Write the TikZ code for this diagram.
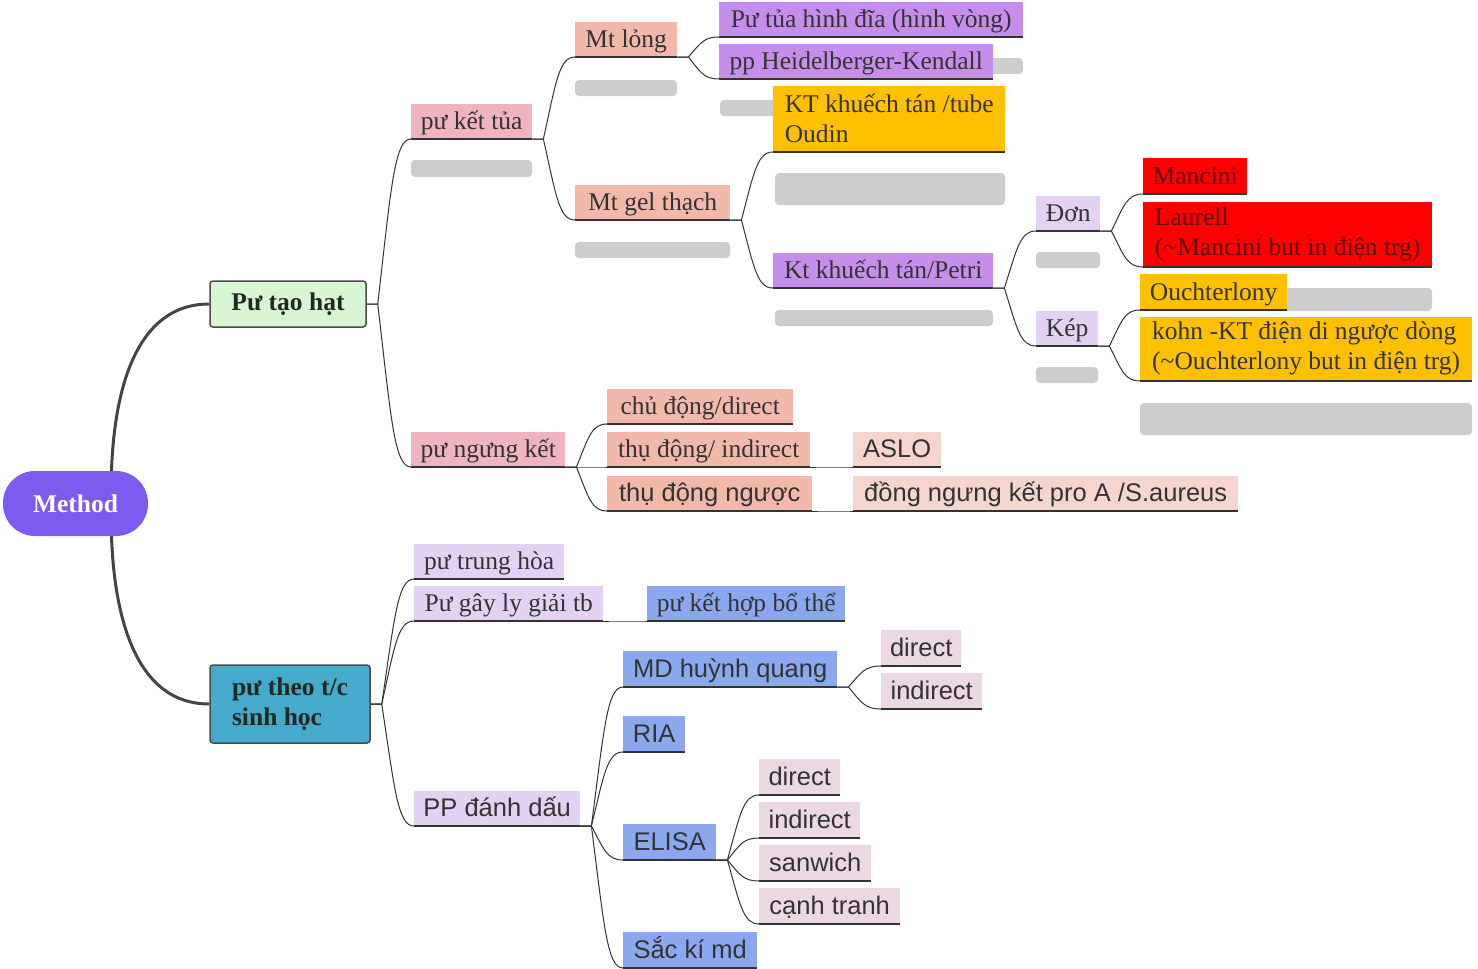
\documentclass[tikz,border=0pt]{standalone}
\usepackage{fontspec}
\setmainfont{Liberation Serif}
\setsansfont{Liberation Sans}
\usetikzlibrary{calc}

\definecolor{metodi}{HTML}{7B5CEF}
\definecolor{vihrea}{HTML}{D9F6D2}
\definecolor{sinivihrea}{HTML}{45AACB}
\definecolor{reuna}{HTML}{4A4A4A}
\definecolor{teksti}{HTML}{333333}
\definecolor{tumma}{HTML}{1E2A22}
\definecolor{viiva}{HTML}{333333}
\definecolor{juuriviiva}{HTML}{444444}
\definecolor{harmaa}{HTML}{CDCDCD}
\definecolor{pinkki}{HTML}{F0B4C0}
\definecolor{lohi}{HTML}{F2B8AA}
\definecolor{vaaleapinkki}{HTML}{F6D5CF}
\definecolor{violetti}{HTML}{C48EEA}
\definecolor{keltainen}{HTML}{FFC000}
\definecolor{punainen}{HTML}{FF0000}
\definecolor{tpunainen}{HTML}{5C0A0A}
\definecolor{laventeli}{HTML}{E3D2F4}
\definecolor{sininen}{HTML}{8BA7EE}
\definecolor{malva}{HTML}{EBD8E3}

\tikzset{
laatikko/.style={anchor=south west, inner xsep=7pt, inner ysep=0pt, align=left, text=teksti},
rivi/.style={laatikko, minimum height=35pt, text height=22pt, text depth=5pt},
linkki/.style={draw=viiva, line width=1pt},
juuri/.style={draw=juuriviiva, line width=3pt},
alleviiva/.style={draw=viiva, line width=1.3pt},
sumea/.style={fill=harmaa, rounded corners=4pt}
}

\begin{document}
\begin{tikzpicture}[x=1pt,y=-1pt]
\fontsize{25.5}{30}\selectfont
\useasboundingbox (0,0) rectangle (1478,969);
\newcommand\haara[2]{
\path[linkki] let \p1=($(#1)+(11,0)$), \p2=(#2.south west) in (#1) -- (\p1) .. controls ({\x1+0.4*(\x2-\x1)},{\y1+0.7*(\y2-\y1)}) and ({\x1+0.5*(\x2-\x1)},\y2) .. (\p2);
}

\fill[sumea] (411,160) rectangle (532,177);
\fill[sumea] (575,80) rectangle (677,96);
\fill[sumea] (575,242) rectangle (730,258);
\fill[sumea] (719,58) rectangle (1023,74);
\fill[sumea] (720,100) rectangle (1005,116);
\fill[sumea] (775,173) rectangle (1005,205);
\fill[sumea] (775,310) rectangle (993,326);
\fill[sumea] (1036,252) rectangle (1100,268);
\fill[sumea] (1036,367) rectangle (1098,383);
\fill[sumea] (1140,288) rectangle (1432,311);
\fill[sumea] (1140,403) rectangle (1472,435);

\node[fill=metodi, rounded corners=32pt, minimum width=145pt, minimum height=65pt, text=white, font=\bfseries] (method) at (75.5,503.5) {Method};
\node[draw=reuna, line width=1.5pt, fill=vihrea, rounded corners=3pt, minimum width=156pt, minimum height=46pt, text=tumma, font=\bfseries] (taohat) at (288,304) {Pư tạo hạt};
\node[draw=reuna, line width=1.5pt, fill=sinivihrea, rounded corners=3pt, minimum width=160pt, minimum height=78pt, align=left, text=tumma, font=\bfseries] (sinhhoc) at (290,704) {pư theo t/c\\sinh học};

\node[rivi, fill=pinkki, minimum width=121pt] (kettua) at (411,139) {pư kết tủa};
\node[rivi, fill=pinkki, minimum width=154pt] (ngungket) at (411,467) {pư ngưng kết};
\node[rivi, fill=lohi, minimum width=102pt] (mtlong) at (575,57) {Mt lỏng};
\node[rivi, fill=lohi, minimum width=155pt] (mtgel) at (575,220) {Mt gel thạch};
\node[rivi, fill=violetti, minimum width=304pt] (tuadia) at (719,37) {Pư tủa hình đĩa (hình vòng)};
\node[rivi, fill=violetti, minimum width=274pt] (heidel) at (719,79) {pp Heidelberger-Kendall};
\node[laatikko, fill=keltainen, minimum height=66pt, minimum width=232pt] (oudin) at (773,152) {KT khuếch tán /tube\\Oudin};
\node[rivi, fill=violetti, minimum width=220pt] (petri) at (773,288) {Kt khuếch tán/Petri};
\node[rivi, fill=laventeli, minimum width=64pt] (don) at (1036,231) {Đơn};
\node[rivi, fill=laventeli, minimum width=62pt] (kep) at (1036,346) {Kép};
\node[rivi, fill=punainen, text=tpunainen, minimum height=36pt, minimum width=104pt] (mancini) at (1143,194) {Mancini};
\node[laatikko, fill=punainen, text=tpunainen, minimum height=65pt, minimum width=289pt] (laurell) at (1143,267) {Laurell\\(\textasciitilde Mancini but in điện trg)};
\node[rivi, fill=keltainen, minimum height=36pt, minimum width=147pt] (ouchter) at (1140,310) {Ouchterlony};
\node[laatikko, fill=keltainen, minimum height=64pt, minimum width=332pt] (kohn) at (1140,381) {kohn -KT điện di ngược dòng\\(\textasciitilde Ouchterlony but in điện trg)};

\node[rivi, fill=lohi, minimum width=186pt] (chudong) at (607,424) {chủ động/direct};
\node[rivi, fill=lohi, minimum width=203pt] (thudong) at (607,467) {thụ động/ indirect};
\node[rivi, fill=vaaleapinkki, minimum width=88pt, font=\sffamily] (aslo) at (853,467) {ASLO};
\node[rivi, fill=lohi, minimum width=205pt, font=\sffamily] (nguoc) at (607,511) {thụ động ngược};
\node[rivi, fill=vaaleapinkki, minimum width=385pt, font=\sffamily] (dongngung) at (853,511) {đồng ngưng kết pro A /S.aureus};

\node[rivi, fill=laventeli, minimum width=150pt] (trunghoa) at (414,579) {pư trung hòa};
\node[rivi, fill=laventeli, minimum width=189pt] (lygiai) at (414,621) {Pư gây ly giải tb};
\node[rivi, fill=sininen, minimum width=198pt] (bothe) at (647,621) {pư kết hợp bổ thể};
\node[rivi, fill=laventeli, minimum width=166pt, font=\sffamily] (danhdau) at (414,826) {PP đánh dấu};
\node[rivi, fill=sininen, minimum height=36pt, minimum width=214pt, font=\sffamily] (mdhq) at (623,687) {MD huỳnh quang};
\node[rivi, fill=sininen, minimum height=36pt, minimum width=62pt, font=\sffamily] (ria) at (623,752) {RIA};
\node[rivi, fill=sininen, minimum height=36pt, minimum width=93pt, font=\sffamily] (elisa) at (623,860) {ELISA};
\node[rivi, fill=sininen, minimum height=36pt, minimum width=134pt, font=\sffamily] (sacki) at (623,968) {Sắc kí md};
\node[rivi, fill=malva, minimum height=36pt, minimum width=80pt, font=\sffamily] (hqdirect) at (881,666) {direct};
\node[rivi, fill=malva, minimum height=36pt, minimum width=101pt, font=\sffamily] (hqindirect) at (881,709) {indirect};
\node[rivi, fill=malva, minimum height=36pt, minimum width=81pt, font=\sffamily] (edirect) at (759,795) {direct};
\node[rivi, fill=malva, minimum height=36pt, minimum width=101pt, font=\sffamily] (eindirect) at (759,838) {indirect};
\node[rivi, fill=malva, minimum height=36pt, minimum width=112pt, font=\sffamily] (sanwich) at (759,881) {sanwich};
\node[rivi, fill=malva, minimum height=36pt, minimum width=141pt, font=\sffamily] (canhtranh) at (759,924) {cạnh tranh};

\path[juuri] ([xshift=36pt]method.north) to[out=88,in=180] (taohat.west);
\path[juuri] ([xshift=36pt]method.south) to[out=-88,in=180] (sinhhoc.west);

\foreach \a/\b in {taohat.east/kettua, taohat.east/ngungket, kettua.south east/mtlong, kettua.south east/mtgel,
  mtlong.south east/tuadia, mtlong.south east/heidel, mtgel.south east/oudin, mtgel.south east/petri,
  petri.south east/don, petri.south east/kep, don.south east/mancini, don.south east/laurell,
  kep.south east/ouchter, kep.south east/kohn, ngungket.south east/chudong, ngungket.south east/thudong,
  ngungket.south east/nguoc, thudong.south east/aslo, nguoc.south east/dongngung,
  sinhhoc.east/trunghoa, sinhhoc.east/lygiai, sinhhoc.east/danhdau, lygiai.south east/bothe,
  danhdau.south east/mdhq, danhdau.south east/ria, danhdau.south east/elisa, danhdau.south east/sacki,
  mdhq.south east/hqdirect, mdhq.south east/hqindirect, elisa.south east/edirect, elisa.south east/eindirect,
  elisa.south east/sanwich, elisa.south east/canhtranh}
  \haara{\a}{\b};

\foreach \n in {kettua,ngungket,mtlong,mtgel,tuadia,heidel,oudin,petri,don,kep,mancini,laurell,ouchter,kohn,
  chudong,thudong,aslo,nguoc,dongngung,trunghoa,lygiai,bothe,danhdau,mdhq,ria,elisa,sacki,
  hqdirect,hqindirect,edirect,eindirect,sanwich,canhtranh}
  \path[alleviiva] (\n.south west) -- (\n.south east);
\end{tikzpicture}
\end{document}
